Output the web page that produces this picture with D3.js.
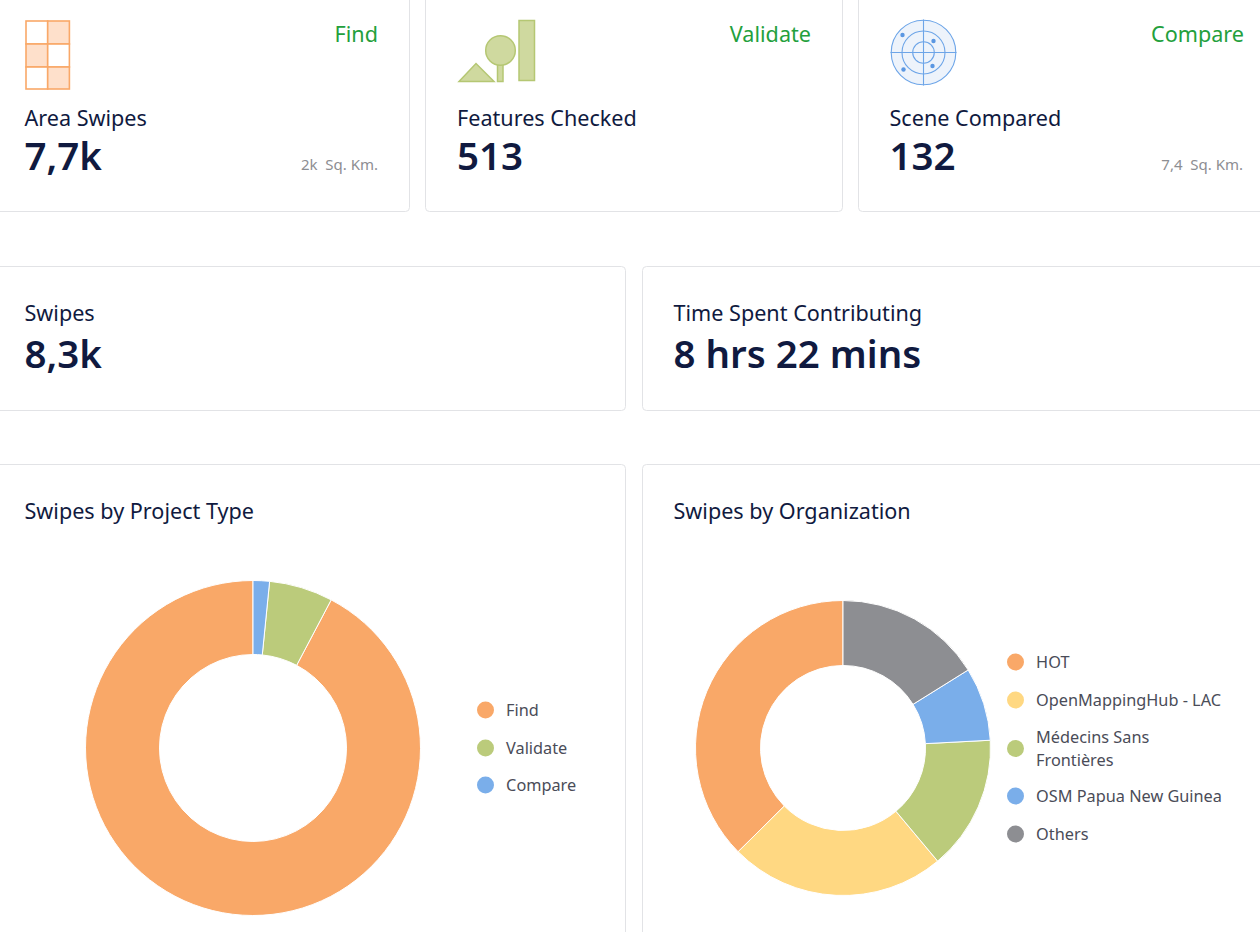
<!DOCTYPE html>
<html><head><meta charset="utf-8">
<script src="https://cdnjs.cloudflare.com/ajax/libs/d3/7.8.5/d3.min.js"></script>
<style>html,body{margin:0;padding:0;background:#fff;overflow:hidden}svg{display:block;font-family:"Noto Sans",sans-serif}</style>
</head><body><svg id="c" width="1260" height="932"></svg>
<script>
const typeLabels=["Find","Validate","Compare"];
const typeValues=[7700,513,132];
const typeColors=["#f9a868","#bbcb7b","#7aaeea"];
const orgLabels=[["HOT"],["OpenMappingHub - LAC"],["Médecins Sans","Frontières"],["OSM Papua New Guinea"],["Others"]];
const orgValues=[3120,1975,1230,670,1345];
const orgColors=["#f9a868","#ffd882","#bbcb7b","#7aaeea","#8d8e92"];
const navy="#101a40",grey="#8d8e92",legendText="#4a4c58",green="#23a03c",border="#e2e3e6";

const svg=d3.select("#c");
const box=(x,y,w,h)=>svg.append("rect").attr("x",x+.5).attr("y",y+.5).attr("width",w).attr("height",h).attr("rx",4).attr("fill","#fff").attr("stroke",border);
const txt=(x,y,s,size,fill,weight=400,anchor="start")=>svg.append("text").attr("x",x).attr("y",y).text(s).attr("font-size",size).attr("fill",fill).attr("font-weight",weight).attr("text-anchor",anchor);

[[-20,-20,429,231],[425,-20,417,231],[858,-20,430,231],[-20,266,645,144],[642,266,640,144],[-20,464,645,500],[642,464,640,500]].forEach(b=>box(...b));

const topCards=[
 {x:24.5,label:"Area Swipes",value:"7,7k",type:"Find",typeX:378,sub:"2k  Sq. Km.",subX:378},
 {x:457,label:"Features Checked",value:"513",type:"Validate",typeX:811},
 {x:889.5,label:"Scene Compared",value:"132",type:"Compare",typeX:1244,sub:"7,4  Sq. Km.",subX:1243}];
topCards.forEach(c=>{
 txt(c.x,125.5,c.label,21.6,navy);
 txt(c.x,170,c.value,38.5,navy,600);
 txt(c.typeX,41.5,c.type,21.6,green,400,"end");
 if(c.sub){svg.append("text").attr("x",c.subX).attr("y",170).text(c.sub).attr("font-size",15).attr("fill",grey).attr("text-anchor","end").style("white-space","pre");}
});
txt(24.5,320.5,"Swipes",21.6,navy);txt(24.5,368,"8,3k",38.5,navy,600);
txt(673.5,320.5,"Time Spent Contributing",21.6,navy);txt(673.5,368,"8 hrs 22 mins",38.5,navy,600);
txt(24.5,518.5,"Swipes by Project Type",21.6,navy);
txt(673.5,518.5,"Swipes by Organization",21.6,navy);

// Find icon
const ic=svg.append("g").attr("stroke","#f9a868").attr("stroke-width",1.6);
[[0,0,0],[1,0,1],[0,1,1],[1,1,0],[0,2,0],[1,2,1]].forEach(([i,j,f])=>ic.append("rect").attr("x",26+i*21.7).attr("y",21+j*23).attr("width",21.7).attr("height",j===2?22:23).attr("fill",f?"#fee0cb":"#fff"));
// Validate icon
const iv=svg.append("g").attr("fill","#cfd99f").attr("stroke","#b5c773").attr("stroke-width",1.5);
iv.append("path").attr("d","M459 81.5L476 63.5L494 81.5Z");
iv.append("rect").attr("x",497.5).attr("y",63).attr("width",5.5).attr("height",18.5);
iv.append("circle").attr("cx",500.5).attr("cy",50.5).attr("r",14.8);
iv.append("rect").attr("x",519).attr("y",20.5).attr("width",15.5).attr("height",60);
// Compare icon
const ir=svg.append("g").attr("stroke","#6da5e8").attr("stroke-width",1.1).attr("fill","none");
ir.append("circle").attr("cx",923.5).attr("cy",52.5).attr("r",32.3).attr("fill","#edf3fb");
ir.append("circle").attr("cx",923.5).attr("cy",52.5).attr("r",21.5);
ir.append("circle").attr("cx",923.5).attr("cy",52.5).attr("r",10.8);
ir.append("line").attr("x1",890.5).attr("x2",956.5).attr("y1",52.5).attr("y2",52.5);
ir.append("line").attr("x1",923.5).attr("x2",923.5).attr("y1",19.5).attr("y2",85.5);
[[902.5,35],[933.5,41],[903.5,69.5],[932.5,66]].forEach(p=>ir.append("circle").attr("cx",p[0]).attr("cy",p[1]).attr("r",2.2).attr("fill","#5a97e2").attr("stroke","none"));

function donut(cx,cy,rOuter,rInner,values,colors){
 const pie=d3.pie().sort(null).startAngle(2*Math.PI).endAngle(0);
 const arc=d3.arc().innerRadius(rInner).outerRadius(rOuter);
 svg.append("g").attr("transform",`translate(${cx},${cy})`).selectAll("path").data(pie(values)).join("path")
  .attr("d",arc).attr("fill",(d,i)=>colors[i]).attr("stroke","#fff").attr("stroke-width",1);
}
donut(253,748,167.5,93.5,typeValues,typeColors);
donut(843,748,147.5,82.5,orgValues,orgColors);

function legend(x,ys,labels,colors){
 labels.forEach((l,i)=>{
  const lines=Array.isArray(l)?l:[l];
  const mid=ys[i];
  svg.append("circle").attr("cx",x).attr("cy",mid).attr("r",8.5).attr("fill",colors[i]);
  lines.forEach((s,k)=>txt(x+20.6,mid+5.8+(k-(lines.length-1)/2)*22.5,s,16.3,legendText));
 });
}
legend(485.5,[710,748,785],typeLabels,typeColors);
legend(1015.5,[662,700,748.5,796,834],orgLabels,orgColors);
</script></body></html>
